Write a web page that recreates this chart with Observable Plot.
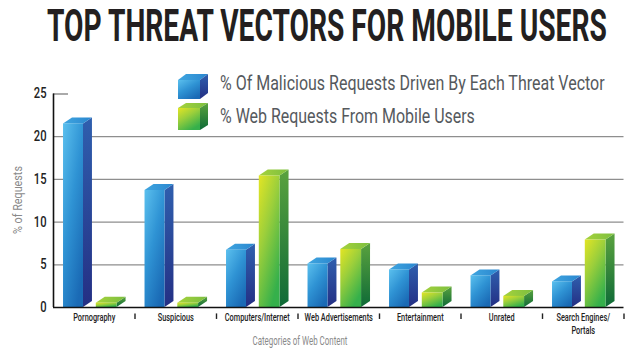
<!DOCTYPE html>
<html><head><meta charset="utf-8">
<script src="https://cdn.jsdelivr.net/npm/d3@7"></script>
<script src="https://cdn.jsdelivr.net/npm/@observablehq/plot@0.6"></script>
<style>
body{margin:0;background:#fff}
#wrap{position:relative;width:641px;height:362px;overflow:hidden;background:#fff}
#wrap svg{display:block}
</style>
</head><body><div id="wrap"></div>
<script>
// ---------- data ----------
const title = "TOP THREAT VECTORS FOR MOBILE USERS";
const seriesNames = ["% Of Malicious Requests Driven By Each Threat Vector", "% Web Requests From Mobile Users"];
const categories = ["Pornography", "Suspicious", "Computers/Internet", "Web Advertisements", "Entertainment", "Unrated", "Search Engines/\nPortals"];
const malicious = [21.5, 13.7, 6.7, 5.1, 4.4, 3.7, 3.0];
const mobile = [0.5, 0.5, 15.4, 6.8, 1.7, 1.3, 7.9];
const yTicks = [0, 5, 10, 15, 20, 25];
const yLabel = "% of Requests";
const xLabel = "Categories of Web Content";

// ---------- geometry (band units) ----------
const slots = [
  {values: malicious, o1: 0.123, o2: 0.368, key: "blue"},
  {values: mobile,    o1: 0.525, o2: 0.78,  key: "green"}
];
const DX = 0.11, DY = 0.7;

const fronts = [], sides = [], tops = [];
slots.forEach(s => {
  s.values.forEach((v, i) => {
    const a = i + s.o1, b = i + s.o2, id = s.key + i;
    fronts.push({x1: a, x2: b, y: v, s: s.key});
    sides.push({x: b, y1: 0, y2: v, id, s: s.key});
    sides.push({x: b + DX, y1: DY, y2: v + DY, id, s: s.key});
    tops.push({x: a, y1: v, y2: v, id, s: s.key});
    tops.push({x: a + DX, y1: v, y2: v + DY, id, s: s.key});
    tops.push({x: b, y1: v, y2: v + DY, id, s: s.key});
    tops.push({x: b + DX, y1: v + DY, y2: v + DY, id, s: s.key});
  });
});
const byS = (arr, k) => arr.filter(d => d.s === k);

const ns = "http://www.w3.org/2000/svg";
const wrap = document.getElementById("wrap");

// fit a text element horizontally to a target width by scaling about its anchor
function fit(t, width) {
  const w = t.getComputedTextLength();
  const x = +t.getAttribute("x") || 0, y = +t.getAttribute("y") || 0;
  const s = width / w;
  t.setAttribute("transform", `translate(${x},${y}) scale(${s},1) translate(${-x},${-y})`);
}

// ---------- title ----------
const tsvg = document.createElementNS(ns, "svg");
tsvg.setAttribute("width", 641); tsvg.setAttribute("height", 55);
tsvg.innerHTML = `<text x="47" y="41" font-family="Roboto, 'DejaVu Sans', sans-serif" font-weight="bold" font-size="43.5" fill="#231f20"></text>`;
tsvg.querySelector("text").textContent = title;
wrap.appendChild(tsvg);
fit(tsvg.querySelector("text"), 560);

// ---------- chart ----------
const chart = Plot.plot({
  width: 641, height: 307,
  marginLeft: 53, marginRight: 17.5, marginTop: 38.5, marginBottom: 55,
  style: {fontFamily: "Roboto, 'DejaVu Sans', sans-serif", background: "#fff"},
  x: {domain: [0, 7], axis: null},
  y: {domain: [0, 25], axis: null},
  marks: [
    Plot.ruleY(yTicks.filter(d => d > 0), {x1: 0, x2: 7, stroke: "#8e8e8e", strokeWidth: 1.3}),
    Plot.areaY(byS(sides, "blue"), {x: "x", y1: "y1", y2: "y2", z: "id", fill: "url(#gBlueSide)", curve: "linear"}),
    Plot.areaY(byS(tops, "blue"), {x: "x", y1: "y1", y2: "y2", z: "id", fill: "url(#gBlueTop)", curve: "linear"}),
    Plot.rectY(byS(fronts, "blue"), {x1: "x1", x2: "x2", y1: 0, y2: "y", fill: "url(#gBlueFront)"}),
    Plot.areaY(byS(sides, "green"), {x: "x", y1: "y1", y2: "y2", z: "id", fill: "url(#gGreenSide)", curve: "linear"}),
    Plot.areaY(byS(tops, "green"), {x: "x", y1: "y1", y2: "y2", z: "id", fill: "url(#gGreenTop)", curve: "linear"}),
    Plot.rectY(byS(fronts, "green"), {x1: "x1", x2: "x2", y1: 0, y2: "y", fill: "url(#gGreenFront)"}),
    Plot.ruleY([0], {x1: 0, x2: 7, stroke: "#111", strokeWidth: 1.6}),
    Plot.ruleX([0], {y1: 0, y2: 25, stroke: "#111", strokeWidth: 1.6}),
    Plot.ruleX(d3.range(1, 8), {y1: -0.75, y2: -1.4, stroke: "#222", strokeWidth: 1.4}),
    Plot.text(yTicks, {x: 0, y: d => d, text: d => String(d), textAnchor: "end", dx: -7, fontSize: 14, fontWeight: 500, fill: "#222"}),
    Plot.text(categories, {x: (d, i) => i + 0.5, y: 0, text: d => d, lineAnchor: "top", dy: 4, fontSize: 11.5, fontWeight: 500, lineHeight: 1.15, fill: "#222"})
  ]
});

const defs = document.createElementNS(ns, "defs");
defs.innerHTML = `
<linearGradient id="gBlueFront" x1="0" y1="0" x2="0.7" y2="1">
  <stop offset="0" stop-color="#5bc0ee"/><stop offset="0.5" stop-color="#2f93d4"/><stop offset="1" stop-color="#1a6ab5"/></linearGradient>
<linearGradient id="gBlueSide" x1="0" y1="0" x2="0" y2="1">
  <stop offset="0" stop-color="#2f5fae"/><stop offset="1" stop-color="#242f84"/></linearGradient>
<linearGradient id="gBlueTop" x1="0" y1="0" x2="1" y2="0">
  <stop offset="0" stop-color="#3fa6e0"/><stop offset="1" stop-color="#2a86cf"/></linearGradient>
<linearGradient id="gGreenFront" x1="0" y1="0" x2="0.6" y2="1">
  <stop offset="0" stop-color="#e3e524"/><stop offset="0.45" stop-color="#9ccf3b"/><stop offset="1" stop-color="#35b04b"/></linearGradient>
<linearGradient id="gGreenSide" x1="0" y1="0" x2="0" y2="1">
  <stop offset="0" stop-color="#5aa23e"/><stop offset="1" stop-color="#0e6a37"/></linearGradient>
<linearGradient id="gGreenTop" x1="0" y1="0" x2="1" y2="0">
  <stop offset="0" stop-color="#a6d23c"/><stop offset="1" stop-color="#7cbf3f"/></linearGradient>`;
chart.insertBefore(defs, chart.firstChild);
wrap.appendChild(chart);

// condense plot text
const tickSet = new Set(yTicks.map(String));
chart.querySelectorAll("text").forEach(t => {
  const S = tickSet.has(t.textContent.trim()) ? 0.8 : 0.64;
  const x = +t.getAttribute("x") || 0, y = +t.getAttribute("y") || 0;
  const tr = t.getAttribute("transform") || "";
  t.setAttribute("transform", `${tr} translate(${x},${y}) scale(${S},1) translate(${-x},${-y})`);
});

// ---------- legend + axis titles overlay ----------
const lsvg = document.createElementNS(ns, "svg");
lsvg.setAttribute("width", 641); lsvg.setAttribute("height", 362);
lsvg.style.position = "absolute"; lsvg.style.left = "0"; lsvg.style.top = "0";
function cube(x, y, w, h, d, dy, k) {
  return `<polygon points="${x},${y} ${x + w},${y} ${x + w + d},${y - dy} ${x + d},${y - dy}" fill="url(#g${k}Top)"/>
  <polygon points="${x + w},${y} ${x + w + d},${y - dy} ${x + w + d},${y + h - dy} ${x + w},${y + h}" fill="url(#g${k}Side)"/>
  <rect x="${x}" y="${y}" width="${w}" height="${h}" fill="url(#g${k}Front)"/>`;
}
lsvg.innerHTML = `<rect x="68" y="86" width="570" height="14" fill="#fff"/>
${cube(178, 80, 22, 19, 8, 6, "Blue")}
${cube(178, 108, 22, 22, 8, 5, "Green")}
<text x="220" y="90.5" font-family="Roboto, sans-serif" font-size="20.5" fill="#55595d"></text>
<text x="220" y="123" font-family="Roboto, sans-serif" font-size="20.5" fill="#55595d"></text>
<g transform="translate(17,200) rotate(-90)"><text x="0" y="4.5" text-anchor="middle" font-family="Roboto, sans-serif" font-size="13.5" fill="#8a8a8a"></text></g>
<text x="300" y="345" text-anchor="middle" font-family="Roboto, sans-serif" font-size="12.5" fill="#8a8a8a"></text>`;
wrap.appendChild(lsvg);
const lt = lsvg.querySelectorAll("text");
lt[0].textContent = seriesNames[0];
lt[1].textContent = seriesNames[1];
lt[2].textContent = yLabel;
lt[3].textContent = xLabel;
fit(lt[0], 385);
fit(lt[1], 255);
fit(lt[2], 68);
fit(lt[3], 95);
</script>
</body></html>
